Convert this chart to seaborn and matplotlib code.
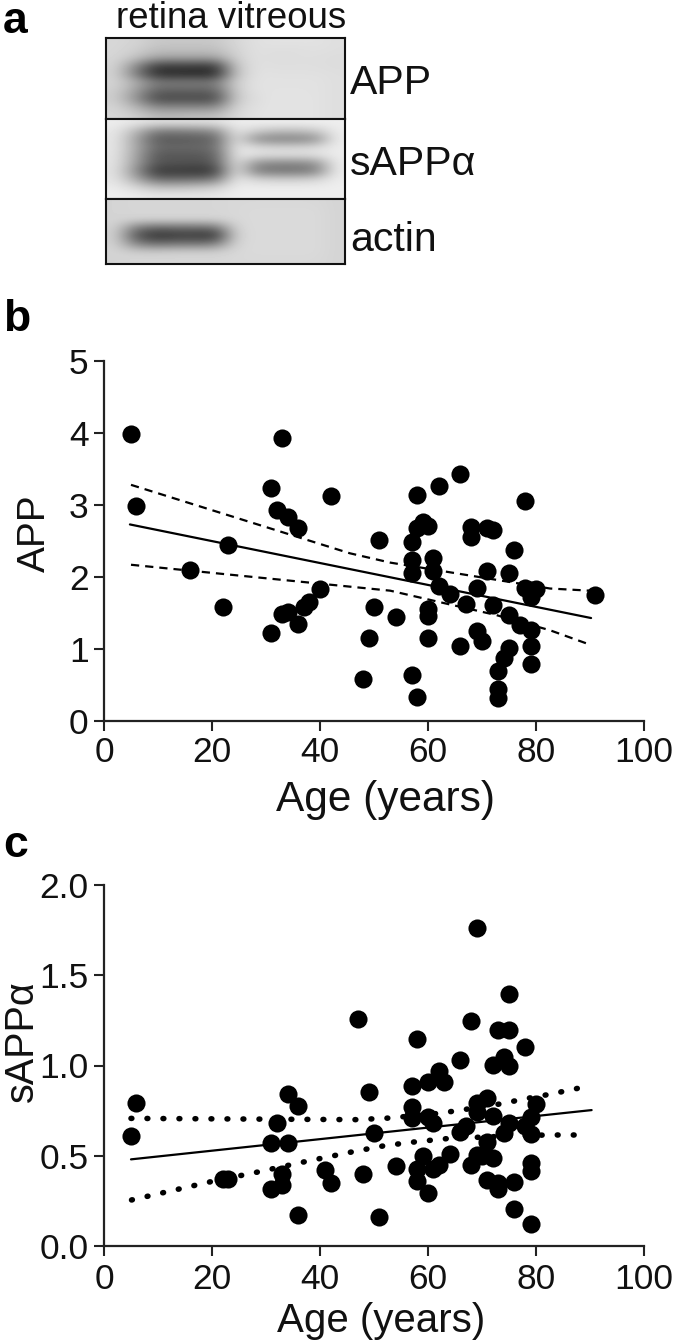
import numpy as np
import matplotlib
matplotlib.use("Agg")
import matplotlib.pyplot as plt
import seaborn as sns

# panel b points
app_age = [5, 6, 33, 31, 32, 34, 36, 42, 23, 16, 22, 40, 38, 37, 34, 33, 36, 31, 51, 50, 49, 48, 54,
           58, 62, 66, 78, 59, 58, 60, 57, 68, 68, 71, 72, 76, 57, 57, 61, 61, 62, 64, 71, 75, 69, 67,
           72, 60, 60, 60, 78, 79, 80, 79, 91, 75, 77, 79, 69, 70, 66, 75, 74, 73, 79, 79, 73, 73, 57, 58]
app_val = [3.98, 2.99, 3.93, 3.24, 2.93, 2.83, 2.68, 3.12, 2.45, 2.10, 1.59, 1.84, 1.65, 1.58, 1.51, 1.48,
           1.35, 1.22, 2.51, 1.585, 1.15, 0.58, 1.45, 3.14, 3.26, 3.43, 3.05, 2.76, 2.68, 2.71, 2.49, 2.70,
           2.55, 2.68, 2.65, 2.38, 2.23, 2.06, 2.26, 2.08, 1.88, 1.76, 2.09, 2.06, 1.85, 1.62, 1.61, 1.56,
           1.46, 1.155, 1.85, 1.82, 1.84, 1.72, 1.75, 1.47, 1.33, 1.26, 1.25, 1.11, 1.04, 1.01, 0.88, 0.69,
           1.04, 0.79, 0.44, 0.32, 0.64, 0.33]

# panel b fit and confidence band
app_fit_x = [4.8, 90.2]
app_fit_y = [2.73, 1.43]
app_up_x = [5, 45.5, 53, 82.6, 90]
app_up_y = [3.28, 2.33, 2.20, 1.84, 1.81]
app_lo_x = [5, 53, 63.4, 72.7, 82.6, 90]
app_lo_y = [2.17, 1.81, 1.63, 1.47, 1.26, 1.06]

# panel c points
sapp_age = [5, 6, 34, 36, 32, 31, 34, 47, 49, 50, 41, 42, 48, 36, 51, 22, 23, 33, 33, 31, 54,
            69, 75, 68, 73, 75, 78, 58, 66, 74, 72, 75, 62, 60, 63, 57, 57, 57, 60, 61, 71, 69, 69, 72,
            67, 66, 75, 74, 80, 79, 78, 79, 71, 64, 59, 69, 72, 68, 70, 62, 61, 58, 58, 60, 71, 73, 73,
            76, 79, 79, 76, 79]
sapp_val = [0.61, 0.79, 0.84, 0.775, 0.68, 0.57, 0.57, 1.26, 0.853, 0.624, 0.42, 0.347, 0.40, 0.17, 0.16,
            0.37, 0.37, 0.40, 0.34, 0.316, 0.443, 1.764, 1.394, 1.248, 1.197, 1.197, 1.104, 1.145, 1.03,
            1.045, 1.003, 1.0, 0.97, 0.909, 0.91, 0.886, 0.768, 0.707, 0.713, 0.68, 0.818, 0.79, 0.744,
            0.722, 0.665, 0.633, 0.683, 0.624, 0.785, 0.717, 0.665, 0.62, 0.578, 0.51, 0.50, 0.504, 0.489,
            0.449, 0.5, 0.449, 0.425, 0.425, 0.36, 0.295, 0.366, 0.347, 0.314, 0.356, 0.458, 0.417, 0.203,
            0.122]

# panel c fit and confidence band
sapp_fit_x = [5, 90.3]
sapp_fit_y = [0.48, 0.753]
sapp_up_x = [5, 46.9, 52.9, 62, 65, 74, 77, 82.8, 88.6]
sapp_up_y = [0.707, 0.70, 0.709, 0.735, 0.748, 0.79, 0.81, 0.842, 0.879]
sapp_lo_x = [5.1, 19.6, 28.5, 37.2, 46.2, 52, 57.9, 63.9, 75.8, 82, 87.9]
sapp_lo_y = [0.255, 0.355, 0.41, 0.467, 0.523, 0.556, 0.578, 0.596, 0.61, 0.615, 0.615]

# blot grey levels (rows top to bottom, 12 columns)
blot_app = [
    [215, 212, 200, 200, 200, 200, 215, 224, 226, 226, 226, 222],
    [215, 208, 192, 192, 192, 192, 212, 224, 222, 222, 224, 222],
    [214, 195, 165, 165, 165, 165, 208, 224, 220, 222, 222, 220],
    [212, 140, 62, 60, 60, 58, 200, 224, 222, 222, 222, 220],
    [210, 125, 45, 42, 42, 40, 195, 226, 224, 224, 224, 222],
    [212, 175, 125, 125, 125, 125, 208, 226, 226, 226, 226, 222],
    [208, 160, 100, 100, 100, 102, 205, 226, 226, 226, 226, 222],
    [205, 145, 72, 72, 72, 72, 202, 222, 228, 228, 226, 222],
    [212, 180, 135, 135, 135, 135, 212, 224, 228, 228, 226, 222],
    [215, 205, 185, 185, 190, 190, 216, 226, 228, 228, 226, 222],
]
blot_sapp = [
    [236, 230, 222, 222, 222, 224, 236, 238, 238, 238, 238, 238],
    [232, 185, 125, 125, 130, 140, 232, 205, 190, 190, 200, 236],
    [230, 165, 90, 90, 92, 100, 228, 140, 128, 128, 140, 236],
    [230, 170, 105, 105, 105, 112, 232, 218, 212, 212, 218, 236],
    [228, 165, 88, 88, 88, 98, 232, 226, 225, 225, 226, 236],
    [228, 160, 85, 85, 80, 90, 230, 145, 135, 135, 145, 236],
    [226, 145, 55, 58, 52, 60, 230, 125, 115, 115, 125, 236],
    [228, 170, 105, 105, 108, 120, 232, 210, 205, 205, 210, 236],
    [234, 215, 190, 190, 195, 205, 236, 236, 236, 236, 236, 238],
    [238, 234, 230, 230, 230, 232, 238, 238, 238, 238, 238, 238],
]
blot_actin = [
    [212, 214, 214, 214, 214, 214, 216, 216, 216, 216, 216, 212],
    [212, 214, 214, 214, 214, 214, 216, 218, 218, 218, 218, 212],
    [212, 212, 212, 212, 212, 212, 216, 218, 218, 218, 218, 212],
    [210, 125, 105, 110, 110, 115, 214, 218, 218, 218, 218, 212],
    [208, 85, 48, 58, 58, 50, 212, 218, 218, 218, 218, 212],
    [210, 130, 110, 118, 118, 125, 214, 218, 218, 218, 218, 212],
    [212, 205, 205, 208, 208, 208, 216, 218, 218, 218, 218, 212],
    [212, 214, 214, 214, 214, 214, 216, 216, 216, 216, 216, 212],
]

W, H = 685, 1343

sns.set_theme(style="ticks")
plt.rcParams["font.family"] = ["Liberation Sans", "DejaVu Sans"]
plt.rcParams["text.color"] = "#111111"
plt.rcParams["axes.labelcolor"] = "#111111"

fig = plt.figure(figsize=(W / 100, H / 100), dpi=100)


def px_axes(left, top, right, bottom):
    return fig.add_axes([left / W, 1 - bottom / H, (right - left) / W, (bottom - top) / H])


# panel a
for grid, top, bottom in [(blot_app, 37.7, 119.3), (blot_sapp, 119.3, 199), (blot_actin, 199, 264)]:
    ax = px_axes(105.7, top, 345, bottom)
    ax.imshow(np.array(grid), cmap="gray", vmin=0, vmax=255, aspect="auto", interpolation="bicubic")
    ax.set_xticks([])
    ax.set_yticks([])
    for s in ax.spines.values():
        s.set_linewidth(1.5)
        s.set_color("#111111")

fig.text(116 / W, 1 - 28.5 / H, "retina vitreous", fontsize=26.4, va="baseline")
fig.text(350 / W, 1 - 93.5 / H, "APP", fontsize=29.5, va="baseline")
fig.text(350 / W, 1 - 175 / H, "sAPPα", fontsize=29.5, va="baseline")
fig.text(350 / W, 1 - 251 / H, "actin", fontsize=29.5, va="baseline")
fig.text(3 / W, 1 - 33 / H, "a", fontsize=32, fontweight="bold", va="baseline", color="black")
fig.text(3 / W, 1 - 331 / H, "b", fontsize=32, fontweight="bold", va="baseline", color="black")
fig.text(3 / W, 1 - 857 / H, "c", fontsize=32, fontweight="bold", va="baseline", color="black")


def scatter_panel(ax, age, val, fit_x, fit_y, up_x, up_y, lo_x, lo_y, band_style, pad_x):
    sns.lineplot(x=fit_x, y=fit_y, color="black", linewidth=1.6, ax=ax, errorbar=None)
    for bx, by in [(up_x, up_y), (lo_x, lo_y)]:
        sns.lineplot(x=bx, y=by, color="black", errorbar=None, ax=ax, **band_style)
    sns.scatterplot(x=age, y=val, color="black", s=170, linewidth=0, ax=ax, clip_on=False, zorder=3)
    ax.set_xlim(0, 100)
    ax.set_xticks([0, 20, 40, 60, 80, 100])
    ax.tick_params(length=7.5, width=1.5, labelsize=25.5, color="#222222", labelcolor="#111111", pad=3.5)
    ax.tick_params(axis="x", pad=pad_x)
    sns.despine(ax=ax)
    for side in ["left", "bottom"]:
        ax.spines[side].set_linewidth(1.6)
        ax.spines[side].set_color("#222222")


# panel b
ax_b = px_axes(104, 361, 644, 721)
scatter_panel(ax_b, app_age, app_val, app_fit_x, app_fit_y, app_up_x, app_up_y, app_lo_x, app_lo_y,
              dict(linewidth=1.6, linestyle=(0, (3.7, 2.7))), 3)
ax_b.set_ylim(0, 5)
ax_b.set_yticks([0, 1, 2, 3, 4, 5])
ax_b.set_xlabel("Age (years)", fontsize=30.5)
ax_b.set_ylabel("APP", fontsize=28)
ax_b.xaxis.set_label_coords(0.522, -0.165)
ax_b.yaxis.set_label_coords(-0.094, 0.522)

# panel c
ax_c = px_axes(104, 885, 644, 1246)
scatter_panel(ax_c, sapp_age, sapp_val, sapp_fit_x, sapp_fit_y, sapp_up_x, sapp_up_y, sapp_lo_x, sapp_lo_y,
              dict(linewidth=4.0, linestyle=(0, (0.15, 2.73)), dash_capstyle="round"), 5)
ax_c.set_ylim(0, 2)
ax_c.set_yticks([0, 0.5, 1, 1.5, 2])
ax_c.set_yticklabels(["0.0", "0.5", "1.0", "1.5", "2.0"])
ax_c.set_xlabel("Age (years)", fontsize=29)
ax_c.set_ylabel("sAPPα", fontsize=28.5)
ax_c.xaxis.set_label_coords(0.513, -0.155)
ax_c.yaxis.set_label_coords(-0.117, 0.568)

fig.savefig("out.png", dpi=100)
